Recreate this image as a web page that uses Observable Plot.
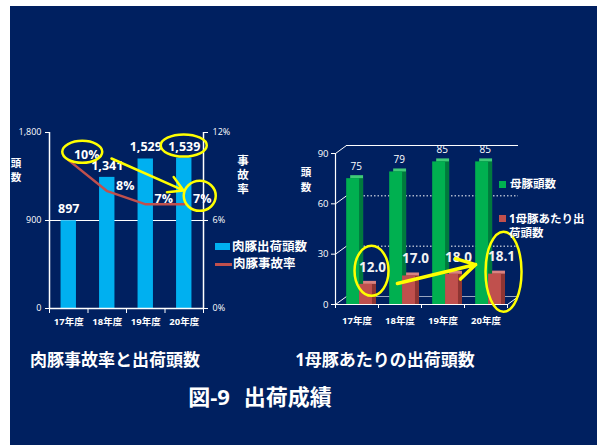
<!DOCTYPE html>
<html><head><meta charset="utf-8">
<script src="https://cdn.jsdelivr.net/npm/d3@7"></script>
<script src="https://cdn.jsdelivr.net/npm/@observablehq/plot@0.6"></script>
<style>
body{margin:0;background:#fff;width:598px;height:445px;overflow:hidden;position:relative;font-family:"Open Sans","Noto Sans CJK JP",sans-serif;}
#panel{position:absolute;left:10px;top:6px;width:587px;height:439px;background:#002060;}
.abs{position:absolute;color:#fff;font-weight:bold;white-space:nowrap;}
.c{transform:translate(-50%,-50%);}
.ch{position:absolute;color:#fff;font-weight:bold;transform:translate(-50%,-50%);line-height:11px;}
.sw{position:absolute;}
</style></head><body>
<div id="panel"></div>
<div id="left" style="position:absolute;left:0;top:120px"></div>
<div id="right" style="position:absolute;left:290px;top:135px"></div>

<div class="ch" style="left:16px;top:163px;font-size:10.5px">頭</div>
<div class="ch" style="left:16px;top:177px;font-size:10.5px">数</div>
<div class="ch" style="left:243px;top:160px;font-size:11.5px">事</div>
<div class="ch" style="left:243px;top:174px;font-size:11.5px">故</div>
<div class="ch" style="left:243px;top:188px;font-size:11.5px">率</div>
<div class="ch" style="left:306px;top:172px;font-size:10.5px">頭</div>
<div class="ch" style="left:306px;top:187px;font-size:10.5px">数</div>

<div class="sw" style="left:215px;top:243px;width:15px;height:7px;background:#00B0F0"></div>
<div class="abs" style="left:232px;top:239px;font-size:12.5px;line-height:16px">肉豚出荷頭数</div>
<div class="sw" style="left:215px;top:262.5px;width:17px;height:3px;background:#C0504D"></div>
<div class="abs" style="left:233px;top:256px;font-size:12.5px;line-height:16px">肉豚事故率</div>

<div class="sw" style="left:499px;top:181px;width:7px;height:7px;background:#00B050"></div>
<div class="abs" style="left:510px;top:176px;font-size:11.5px;line-height:16px">母豚頭数</div>
<div class="sw" style="left:499px;top:215px;width:7px;height:7px;background:#C0504D"></div>
<div class="abs" style="left:509px;top:212px;font-size:11.5px;line-height:14px">1母豚あたり出<br>荷頭数</div>

<div class="abs c" style="left:115px;top:358px;font-size:17px">肉豚事故率と出荷頭数</div>
<div class="abs c" style="left:385px;top:358px;font-size:17px">1母豚あたりの出荷頭数</div>
<div class="abs c" style="left:260px;top:395px;font-size:22px">図-9<span style="margin-left:14px">出荷成績</span></div>

<script>
// ---- data ----
const years = ["17年度", "18年度", "19年度", "20年度"];
const shipped = [897, 1341, 1529, 1539];          // 肉豚出荷頭数
const accidentRate = [10.1, 8.0, 7.1, 7.1];       // 肉豚事故率 (%)
const sows = [75, 79, 85, 85];                    // 母豚頭数
const perSow = [12.0, 17.0, 18.0, 18.1];          // 1母豚あたり出荷頭数
const leftTicks = [0, 900, 1800];
const pctTicks = [0, 6, 12];
const rightTicks = [0, 30, 60, 90];

const FONT = '"Open Sans","Noto Sans CJK JP",sans-serif';
const YEL = "#FFFF00";
const idx = years.map((_, i) => i);
const bounds = [-0.5, 0.5, 1.5, 2.5, 3.5];
const PCT = 1800 / 12;

function addEllipses(plot, list) {
  const sx = plot.scale("x"), sy = plot.scale("y");
  const svg = d3.select(plot);
  for (const e of list) {
    svg.append("ellipse")
      .attr("cx", sx.apply(e.x) + e.dx).attr("cy", sy.apply(e.y) + e.dy)
      .attr("rx", e.rx).attr("ry", e.ry)
      .attr("fill", "none").attr("stroke", YEL).attr("stroke-width", 2.5);
  }
}

// ---- left chart ----
const L = Plot.plot({
  width: 300, height: 215, marginTop: 12, marginBottom: 27, marginLeft: 49, marginRight: 97,
  style: {background: "transparent", color: "white", fontFamily: FONT, fontSize: "9px", overflow: "visible"},
  x: {domain: [-0.5, 3.5], label: null},
  y: {domain: [0, 1800], label: null},
  marks: [
    Plot.ruleY([900], {stroke: "white", strokeWidth: 1.2}),
    Plot.rectY(idx, {x1: i => i - 0.2, x2: i => i + 0.2, y: i => shipped[i], fill: "#00B0F0"}),
    Plot.ruleY([0], {stroke: "white", strokeWidth: 1.5}),
    Plot.ruleX([-0.5, 3.5], {stroke: "white", strokeWidth: 1.5}),
    Plot.axisY({ticks: leftTicks, tickSize: 4, tickPadding: 4, tickFormat: d3.format(","), fontSize: 9}),
    Plot.axisY({anchor: "right", ticks: pctTicks.map(p => p * PCT), tickFormat: d => d / PCT + "%", tickSize: 4, tickPadding: 5, fontSize: 9}),
    Plot.axisX({ticks: bounds, tickFormat: () => "", tickSize: 5}),
    Plot.axisX({ticks: idx, tickFormat: i => years[i], tickSize: 0, tickPadding: 10, fontSize: 9.5, fontWeight: "bold"}),
    Plot.line(idx, {x: i => i, y: i => accidentRate[i] * PCT, stroke: "#C0504D", strokeWidth: 2.5}),
    Plot.text(idx, {x: i => i, y: i => shipped[i], text: i => d3.format(",")(shipped[i]), dy: -11.5, fill: "white", fontSize: 12.5, fontWeight: "bold"}),
    Plot.text(idx, {x: i => i, y: i => accidentRate[i] * PCT, text: i => Math.round(accidentRate[i]) + "%", dx: 18, dy: -5, fill: "white", fontSize: 12.5, fontWeight: "bold"}),
    Plot.arrow([0], {x1: () => 1.11, y1: () => 1534, x2: () => 2.98, y2: () => 1207, stroke: YEL, strokeWidth: 2.5, headLength: 10})
  ]
});
document.getElementById("left").append(L);
addEllipses(L, [
  {x: 0, y: accidentRate[0] * PCT, dx: 14, dy: -8, rx: 20, ry: 11},
  {x: 3, y: shipped[3], dx: 0, dy: -12, rx: 23, ry: 11},
  {x: 3, y: accidentRate[3] * PCT, dx: 16, dy: -8, rx: 16, ry: 15}
]);

// ---- right chart (pseudo 3D) ----
const RW = 240, RH = 200, RmT = 18, RmB = 31, RmL = 45, RmR = 23;
const DX = 11, DY = 8;  // depth offset in px
const ux = 4 / (RW - RmL - RmR), uy = 90 / (RH - RmT - RmB);
const R = Plot.plot({
  width: RW, height: RH, marginTop: RmT, marginBottom: RmB, marginLeft: RmL, marginRight: RmR,
  style: {background: "transparent", color: "white", fontFamily: FONT, fontSize: "9px", overflow: "visible"},
  x: {domain: [-0.5, 3.5], label: null},
  y: {domain: [0, 90], label: null},
  marks: [
    Plot.ruleY([30, 60], {dx: DX, dy: -DY, stroke: "white", strokeDasharray: "1.5,2"}),
    Plot.ruleY([90], {dx: DX, dy: -DY, stroke: "white", strokeWidth: 1.2}),
    Plot.ruleY([0], {dx: DX, dy: -DY, stroke: "white", strokeOpacity: 0.6}),
    Plot.link(rightTicks, {x1: () => -0.5, y1: d => d, x2: () => -0.5 + DX * ux, y2: d => d + DY * uy, stroke: "white", strokeWidth: 1}),
    Plot.link([0], {x1: () => 3.5, y1: () => 0, x2: () => 3.5 + DX * ux, y2: () => DY * uy, stroke: "white", strokeWidth: 1}),
    // green bars: top, side, front
    Plot.rectY(idx, {x1: i => i - 0.24, x2: i => i + 0.06, y: i => sows[i], fill: "#3FCB77", dx: 4, dy: -3}),
    Plot.rectY(idx, {x1: i => i - 0.24, x2: i => i + 0.06, y: i => sows[i], fill: "#007A3D", dx: 4}),
    Plot.rectY(idx, {x1: i => i - 0.24, x2: i => i + 0.06, y: i => sows[i], fill: "#00B050"}),
    // red bars
    Plot.rectY(idx, {x1: i => i + 0.06, x2: i => i + 0.36, y: i => perSow[i], fill: "#D98380", dx: 4, dy: -3}),
    Plot.rectY(idx, {x1: i => i + 0.06, x2: i => i + 0.36, y: i => perSow[i], fill: "#8E3533", dx: 4}),
    Plot.rectY(idx, {x1: i => i + 0.06, x2: i => i + 0.36, y: i => perSow[i], fill: "#C0504D"}),
    Plot.ruleY([0], {stroke: "white", strokeWidth: 1.2}),
    Plot.ruleX([-0.5], {stroke: "white", strokeWidth: 1.2}),
    Plot.axisY({ticks: rightTicks, tickSize: 4, tickPadding: 3, fontSize: 9.5}),
    Plot.axisX({ticks: bounds, tickFormat: () => "", tickSize: 4}),
    Plot.axisX({ticks: idx, tickFormat: i => years[i], tickSize: 0, tickPadding: 13, fontSize: 9.5, fontWeight: "bold"}),
    Plot.text(idx, {x: i => i - 0.09, y: i => sows[i], text: i => String(sows[i]), dx: 3, dy: -12, fill: "white", fontSize: 10}),
    Plot.text(idx, {x: i => i + 0.21, y: i => perSow[i], text: i => perSow[i].toFixed(1), dx: 6.5, dy: -17, fill: "#F2F2F2", fontSize: 13.5, fontWeight: "bold"}),
    Plot.arrow([0], {x1: () => 0.94, y1: () => 12.5, x2: () => 2.76, y2: () => 23.8, stroke: YEL, strokeWidth: 3.5, headLength: 9})
  ]
});
document.getElementById("right").append(R);
addEllipses(R, [
  {x: 0.21, y: perSow[0], dx: 6, dy: -13, rx: 17, ry: 25},
  {x: 3.21, y: perSow[3], dx: 9, dy: -2, rx: 18, ry: 40}
]);
</script>
</body></html>
